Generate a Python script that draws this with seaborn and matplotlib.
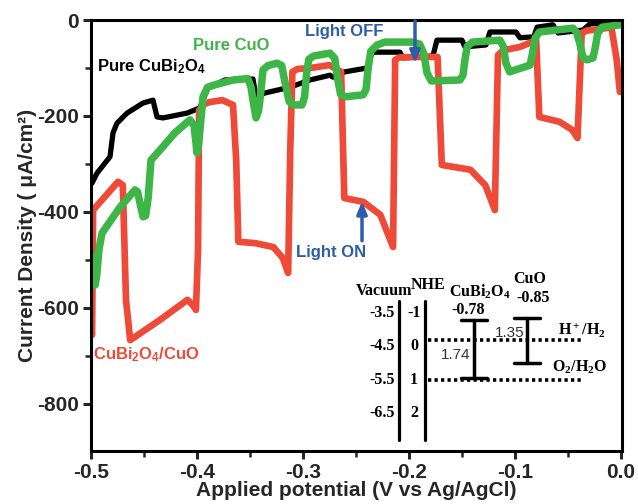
import matplotlib
matplotlib.use("Agg")
import matplotlib.pyplot as plt
import seaborn as sns
import pandas as pd
import numpy as np
from matplotlib.ticker import MultipleLocator

# ---------------- data ----------------
red_x = [-0.499, -0.498, -0.4745, -0.470, -0.467, -0.463, -0.435, -0.409, -0.404, -0.401,
         -0.399, -0.398, -0.393, -0.388, -0.376, -0.366, -0.363, -0.361, -0.345, -0.328, -0.319,
         -0.314, -0.312, -0.310, -0.305, -0.293, -0.275, -0.264, -0.261, -0.243, -0.227, -0.215,
         -0.213, -0.209, -0.190, -0.173, -0.169, -0.142, -0.128, -0.119, -0.116, -0.111, -0.095, -0.080,
         -0.077, -0.058, -0.046, -0.041, -0.037, -0.032, -0.020, -0.009, -0.004, -0.001]
red_y = [-656, -396, -337, -344, -583, -667, -625, -583, -594, -604,
         -479, -188, -175, -171, -167, -177, -292, -462, -465, -473, -496,
         -527, -271, -108, -102, -100, -94, -108, -371, -379, -406, -473,
         -83, -78, -77, -77, -302, -312, -344, -396, -73, -63, -56, -42,
         -202, -212, -229, -246, -27, -22, -19, -15, -83, -150]

green_x = [-0.499, -0.4975, -0.496, -0.4945, -0.4925, -0.4896, -0.4726, -0.4585, -0.4560, -0.4530,
           -0.4509, -0.4485, -0.4460, -0.4434, -0.4349, -0.4208, -0.4066, -0.4028, -0.4000, -0.3985,
           -0.3972, -0.3943, -0.3900, -0.3830, -0.3660, -0.3520, -0.3490, -0.3472, -0.3443, -0.3420,
           -0.3406, -0.3377, -0.3330, -0.3245, -0.3200, -0.3170, -0.3130, -0.3090, -0.3009, -0.2985,
           -0.2965, -0.2945, -0.2900, -0.2745, -0.2700, -0.2675, -0.2645, -0.2600, -0.2434, -0.2405,
           -0.2385, -0.2360, -0.2300, -0.2226, -0.1972, -0.1900, -0.1860, -0.1830, -0.1790, -0.1519,
           -0.1490, -0.1472, -0.1450, -0.1400, -0.1142, -0.1110, -0.1085, -0.1050, -0.0858, -0.0835,
           -0.0810, -0.0770, -0.0453, -0.0420, -0.0387, -0.0355, -0.0320, -0.0264, -0.0240, -0.0220,
           -0.0180, -0.0009]
green_y = [-490, -530, -552, -530, -479, -444, -390, -354, -358, -390,
           -410, -408, -370, -292, -271, -235, -208, -219, -277, -260,
           -229, -160, -140, -135, -125, -122, -140, -167, -204, -190,
           -167, -104, -95, -90, -95, -130, -170, -177, -177, -160,
           -110, -82, -75, -69, -80, -120, -155, -160, -156, -145,
           -100, -65, -52, -46, -46, -50, -70, -110, -127, -125,
           -115, -83, -55, -46, -42, -55, -90, -108, -94, -70,
           -38, -25, -17, -25, -50, -80, -83, -79, -55, -28,
           -15, -10]

black_x = [-0.4991, -0.4943, -0.4821, -0.4792, -0.4755, -0.4660, -0.4509, -0.4415, -0.4377, -0.4321,
           -0.4094, -0.3972, -0.3925, -0.3896, -0.3736, -0.3472, -0.3443, -0.3358, -0.3123, -0.2934,
           -0.2745, -0.2717, -0.2604, -0.2396, -0.2349, -0.2085, -0.2057, -0.1774, -0.1736, -0.1500,
           -0.1472, -0.1274, -0.1236, -0.0991, -0.0953, -0.0821, -0.0792, -0.0642, -0.0594, -0.0358,
           -0.0292, -0.0009]
black_y = [-340, -319, -285, -235, -215, -194, -173, -167, -202, -204,
           -194, -183, -156, -142, -125, -123, -160, -152, -140, -125,
           -115, -119, -108, -100, -67, -67, -79, -75, -42, -42,
           -56, -52, -25, -25, -37, -35, -15, -10, -27, -21,
           -8, -4]

x_ticks = [-0.5, -0.4, -0.3, -0.2, -0.1, 0.0]
x_ticklabels = ["-0.5", "-0.4", "-0.3", "-0.2", "-0.1", "0.0"]
y_ticks = [0, -200, -400, -600, -800]
y_ticklabels = ["0", "-200", "-400", "-600", "-800"]

# band diagram (inset) data
vac_labels = ["-3.5", "-4.5", "-5.5", "-6.5"]
nhe_labels = ["-1", "0", "1", "2"]
nhe_levels = [-1, 0, 1, 2]
cbo_cb, cbo_gap = -0.78, 1.74
cuo_cb, cuo_gap = -0.85, 1.35
redox_levels = [-0.18, 1.0]   # drawn positions of H+/H2 and O2/H2O lines

RED = "#EE4A37"
GREEN = "#3DB547"
BLUE = "#2F5BA8"

# ---------------- style ----------------
sns.set_theme(style="ticks")
plt.rcParams["font.family"] = ["Liberation Sans", "DejaVu Sans"]
plt.rcParams["axes.unicode_minus"] = False
plt.rcParams["axes.linewidth"] = 2.2

fig = plt.figure(figsize=(6.38, 5.04), dpi=100)
ax = fig.add_axes([91/638, 1-451/504, 531/638, 431/504])

df_b = pd.DataFrame({"x": black_x, "y": black_y})
df_r = pd.DataFrame({"x": red_x, "y": red_y})
df_g = pd.DataFrame({"x": green_x, "y": green_y})
kw = dict(sort=False, estimator=None, ax=ax, legend=False)
sns.lineplot(data=df_b, x="x", y="y", color="black", linewidth=3.8,
             solid_joinstyle="round", solid_capstyle="round", **kw)
sns.lineplot(data=df_r, x="x", y="y", color=RED, linewidth=4.8,
             solid_joinstyle="round", solid_capstyle="round", **kw)
sns.lineplot(data=df_g, x="x", y="y", color=GREEN, linewidth=5.4,
             solid_joinstyle="round", solid_capstyle="round", **kw)

ax.set_xlim(-0.5, 0.001)
ax.set_ylim(-898, 0)
ax.set_xticks(x_ticks)
ax.set_xticklabels(x_ticklabels)
ax.set_yticks(y_ticks)
ax.set_yticklabels(y_ticklabels)
ax.xaxis.set_minor_locator(MultipleLocator(0.05))
ax.yaxis.set_minor_locator(MultipleLocator(100))
ax.tick_params(which="major", direction="out", length=6, width=2.2,
               labelsize=15, pad=3)
ax.tick_params(which="minor", direction="out", length=4, width=1.8)
for lab in ax.get_xticklabels() + ax.get_yticklabels():
    lab.set_fontweight("bold")
for s in ax.spines.values():
    s.set_linewidth(2.2)
    s.set_color("black")

ax.set_xlabel("Applied potential (V vs Ag/AgCl)", fontsize=15, fontweight="bold", labelpad=-1)
ax.set_ylabel("Current Density ( μA/cm²)", fontsize=15, fontweight="bold", labelpad=0)

# annotations
ax.text(-0.494, -98, r"Pure CuBi$\mathregular{_2}$O$\mathregular{_4}$", fontsize=12,
        fontweight="bold", color="black", va="center", ha="left")
ax.text(-0.4038, -54, "Pure CuO", fontsize=12, fontweight="bold", color=GREEN,
        va="center", ha="left")
ax.text(-0.498, -698, r"CuBi$\mathregular{_2}$O$\mathregular{_4}$/CuO", fontsize=12,
        fontweight="bold", color=RED, va="center", ha="left")
ax.text(-0.298, -25, "Light OFF", fontsize=12, fontweight="bold", color=BLUE,
        va="center", ha="left")
ax.text(-0.3066, -485, "Light ON", fontsize=12, fontweight="bold", color=BLUE,
        va="center", ha="left")
ax.annotate("", xy=(-0.1943, -90), xytext=(-0.1943, -2),
            arrowprops=dict(arrowstyle="-|>,head_length=0.6,head_width=0.25",
                            color=BLUE, lw=2.5, shrinkA=0, shrinkB=0))
ax.annotate("", xy=(-0.2443, -378), xytext=(-0.2443, -460),
            arrowprops=dict(arrowstyle="-|>,head_length=0.6,head_width=0.25",
                            color=BLUE, lw=2.5, shrinkA=0, shrinkB=0))

# ---------------- inset band diagram ----------------
ins = fig.add_axes([340/638, 1-450/504, 290/638, 180/504])
ins.set_xlim(340, 630)
ins.set_ylim(3.104, -2.269)
ins.axis("off")
serif = ["Liberation Serif", "DejaVu Serif"]
tk = dict(family=serif, fontweight="bold", fontsize=11.5, color="black")

ins.plot([399, 399], [-1.33, 2.8], color="black", lw=2.3)
ins.plot([425, 425], [-1.33, 2.8], color="black", lw=2.3)
ins.text(384, -1.65, "Vacuum", ha="center", va="center", **tk)
ins.text(428, -1.83, "NHE", ha="center", va="center", **tk)
for lv, vl, nl in zip(nhe_levels, vac_labels, nhe_labels):
    ins.text(395, lv, vl, ha="right", va="center", **tk)
    ins.text(414, lv, nl, ha="center", va="center", **tk)

for lv in redox_levels:
    ins.plot([428, 583], [lv, lv], color="black", lw=2.6, linestyle=(0, (0.9, 0.9)))
ins.text(582, -0.50, r"H$\mathregular{^+}$/H$\mathregular{_2}$", ha="center", va="center", **tk)
ins.text(580, 0.65, r"O$\mathregular{_2}$/H$\mathregular{_2}$O", ha="center", va="center", **tk)

def band(xc, cb, gap):
    ins.plot([xc, xc], [cb, cb + gap], color="black", lw=2.5)
    ins.plot([xc - 13, xc + 13], [cb, cb], color="black", lw=2.5)
    ins.plot([xc - 13, xc + 13], [cb + gap, cb + gap], color="black", lw=2.5)

band(474, cbo_cb, cbo_gap)
band(527, cuo_cb, cuo_gap)
ins.text(480, -1.62, r"CuBi$\mathregular{_2}$O$\mathregular{_4}$", ha="center", va="center", **tk)
ins.text(468, -1.08, f"{cbo_cb:.2f}", ha="center", va="center", **tk)
ins.text(530, -2.0, "CuO", ha="center", va="center", **tk)
ins.text(533, -1.42, f"{cuo_cb:.2f}", ha="center", va="center", **tk)
ins.text(456, 0.27, f"{cbo_gap:.2f}", ha="center", va="center", fontsize=11, color="#333333")
ins.text(510, -0.4, f"{cuo_gap:.2f}", ha="center", va="center", fontsize=11, color="#333333")

fig.savefig("out.png", dpi=100)
